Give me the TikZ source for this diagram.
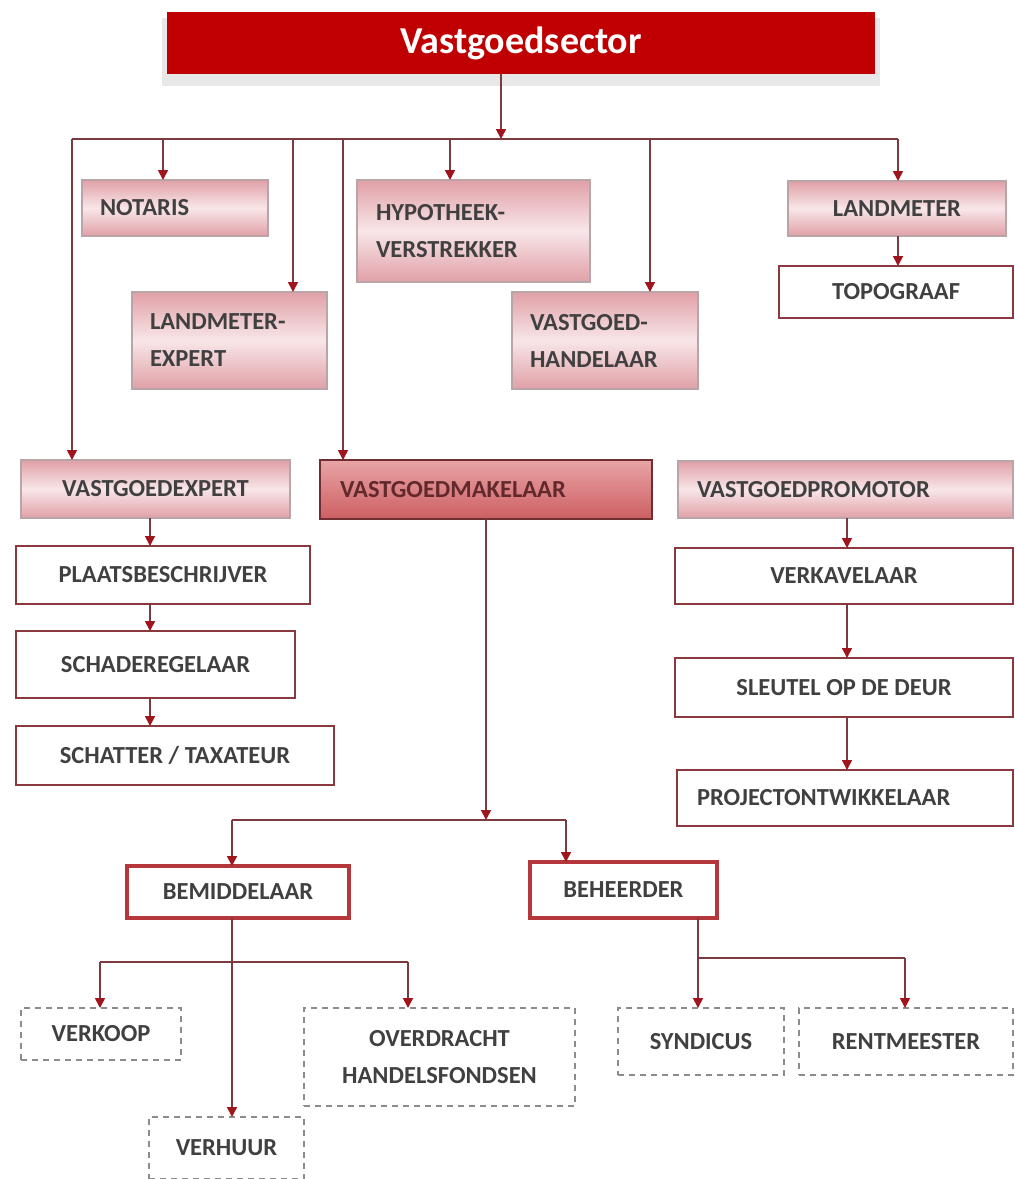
\documentclass[tikz,border=0pt]{standalone}
\usepackage{fontspec}
\setmainfont{Carlito}
\usetikzlibrary{arrows.meta}
\definecolor{titlered}{HTML}{C00000}
\definecolor{linec}{HTML}{7A3A40}
\definecolor{arrowc}{HTML}{A0141E}
\definecolor{pinkL}{HTML}{F8E6E8}
\definecolor{pinkM}{HTML}{F1CFD3}
\definecolor{pinkD}{HTML}{E0A0A7}
\definecolor{makL}{HTML}{E8A4A6}
\definecolor{makD}{HTML}{CD5F62}
\definecolor{wborder}{HTML}{8A3A3F}
\definecolor{bemborder}{HTML}{B5373C}
\definecolor{dashc}{HTML}{8C8C8C}
\definecolor{txt}{HTML}{404040}
\definecolor{shadowc}{HTML}{B9A4A7}
\begin{document}
\begin{tikzpicture}[x=1pt,y=-1pt,
  every node/.style={font=\fontsize{24.5}{37}\bfseries\selectfont, text=txt, inner sep=0pt, outer sep=0pt},
  pinkbox/.style={top color=pinkD, bottom color=pinkD, middle color=pinkL, draw=shadowc, line width=1.2pt},
  makbox/.style={top color=makL, bottom color=makD, draw=wborder!80!black, line width=1.5pt, text=wborder!70!black},
  whitebox/.style={fill=white, draw=wborder, line width=1.3pt},
  thickbox/.style={fill=white, draw=bemborder, line width=3.2pt},
  dashbox/.style={fill=white, draw=dashc, line width=1.8pt, dash pattern=on 6pt off 5pt},
  ln/.style={draw=linec, line width=1.6pt},
  arr/.style={draw=linec, line width=1.6pt, -{Triangle[width=10pt,length=10pt,color=arrowc]}},
]
\useasboundingbox (0,0) rectangle (1015,1179);
\fill[white] (0,0) rectangle (1015,1179);

% title
\fill[gray!18] (162,18) rectangle (880,86);
\node[fill=titlered, anchor=north west, minimum width=708pt, minimum height=62pt,
  font=\fontsize{38}{42}\bfseries\selectfont, text=white] (title) at (167,12) {Vastgoedsector};

% first level
\node[pinkbox, anchor=north west, text width=150pt, minimum height=56pt, inner xsep=18pt, align=left] (notaris) at (82,180) {NOTARIS};
\node[pinkbox, anchor=north west, text width=195pt, minimum height=102pt, inner xsep=19pt, align=left] (hypo) at (357,180) {HYPOTHEEK-\\VERSTREKKER};
\node[pinkbox, anchor=north west, minimum width=218pt, minimum height=55pt] (landm) at (788,181) {LANDMETER};
\node[whitebox, anchor=north west, minimum width=234pt, minimum height=52pt] (topo) at (779,266) {TOPOGRAAF};
\node[pinkbox, anchor=north west, text width=159pt, minimum height=97pt, inner xsep=18pt, align=left] (lexp) at (132,292) {LANDMETER-\\EXPERT};
\node[pinkbox, anchor=north west, text width=150pt, minimum height=97pt, inner xsep=18pt, align=left] (vhand) at (512,292) {VASTGOED-\\HANDELAAR};

% second level
\node[pinkbox, anchor=north west, minimum width=269pt, minimum height=58pt] (vexp) at (21,460) {VASTGOEDEXPERT};
\node[makbox, anchor=north west, text width=292pt, minimum height=59pt, inner xsep=20pt, align=left] (vmak) at (320,460) {VASTGOEDMAKELAAR};
\node[pinkbox, anchor=north west, text width=297pt, minimum height=57pt, inner xsep=19pt, align=left] (vprom) at (678,461) {VASTGOEDPROMOTOR};

\node[whitebox, anchor=north west, minimum width=294pt, minimum height=58pt] (plaats) at (16,546) {PLAATSBESCHRIJVER};
\node[whitebox, anchor=north west, minimum width=279pt, minimum height=67pt] (schade) at (16,631) {SCHADEREGELAAR};
\node[whitebox, anchor=north west, minimum width=318pt, minimum height=59pt] (schat) at (16,726) {SCHATTER / TAXATEUR};

\node[whitebox, anchor=north west, minimum width=338pt, minimum height=56pt] (verk) at (675,548) {VERKAVELAAR};
\node[whitebox, anchor=north west, minimum width=338pt, minimum height=59pt] (sleut) at (675,658) {SLEUTEL OP DE DEUR};
\node[whitebox, anchor=north west, text width=296pt, minimum height=56pt, inner xsep=20pt, align=left] (proj) at (677,770) {PROJECTONTWIKKELAAR};

% makelaar branch
\node[thickbox, anchor=north west, minimum width=222pt, minimum height=52pt] (bem) at (127,866) {BEMIDDELAAR};
\node[thickbox, anchor=north west, minimum width=187pt, minimum height=56pt] (beh) at (530,862) {BEHEERDER};

\node[dashbox, anchor=north west, minimum width=160pt, minimum height=52pt] (verkoop) at (21,1008) {VERKOOP};
\node[dashbox, anchor=north west, minimum width=271pt, minimum height=98pt, align=center] (overd) at (304,1008) {OVERDRACHT\\HANDELSFONDSEN};
\node[dashbox, anchor=north west, minimum width=155pt, minimum height=62pt] (verhuur) at (149,1117) {VERHUUR};
\node[dashbox, anchor=north west, minimum width=166pt, minimum height=67pt] (synd) at (618,1008) {SYNDICUS};
\node[dashbox, anchor=north west, minimum width=214pt, minimum height=67pt] (rent) at (799,1008) {RENTMEESTER};

% ---- connectors
\coordinate (b0) at (501,139);
\coordinate (bL) at (72,139);
\coordinate (bR) at (898,139);
\coordinate (bN) at (163,139);
\coordinate (bLE) at (293,139);
\coordinate (bM) at (343,139);
\coordinate (bH) at (450,139);
\coordinate (bVH) at (650,139);

\draw[arr] (title.south -| b0) -- (b0);
\draw[ln] (bL) -- (bR);
\draw[arr] (bL) -- (vexp.north -| bL);
\draw[arr] (bN) -- (notaris.north -| bN);
\draw[arr] (bLE) -- (lexp.north -| bLE);
\draw[arr] (bM) -- (vmak.north -| bM);
\draw[arr] (bH) -- (hypo.north -| bH);
\draw[arr] (bVH) -- (vhand.north -| bVH);
\draw[arr] (bR) -- (landm.north -| bR);
\draw[arr] (landm.south -| bR) -- (topo.north -| bR);

\coordinate (xe) at (150,0);
\draw[arr] (vexp.south -| xe) -- (plaats.north -| xe);
\draw[arr] (plaats.south -| xe) -- (schade.north -| xe);
\draw[arr] (schade.south -| xe) -- (schat.north -| xe);

\coordinate (xp) at (847,0);
\draw[arr] (vprom.south -| xp) -- (verk.north -| xp);
\draw[arr] (verk.south -| xp) -- (sleut.north -| xp);
\draw[arr] (sleut.south -| xp) -- (proj.north -| xp);

\coordinate (m0) at (486,820);
\coordinate (mL) at (232,820);
\coordinate (mR) at (566,820);
\draw[arr] (vmak.south -| m0) -- (m0);
\draw[ln] (mL) -- (mR);
\draw[arr] (mL) -- (bem.north -| mL);
\draw[arr] (mR) -- (beh.north -| mR);

\coordinate (q0) at (232,962);
\coordinate (qL) at (100,962);
\coordinate (qR) at (408,962);
\draw[arr] (bem.south -| q0) -- (verhuur.north -| q0);
\draw[ln] (qL) -- (qR);
\draw[arr] (qL) -- (verkoop.north -| qL);
\draw[arr] (qR) -- (overd.north -| qR);

\coordinate (r0) at (698,958);
\coordinate (rR) at (905,958);
\draw[ln] (beh.south -| r0) -- (r0) -- (rR);
\draw[arr] (r0) -- (synd.north -| r0);
\draw[arr] (rR) -- (rent.north -| rR);
\end{tikzpicture}
\end{document}
